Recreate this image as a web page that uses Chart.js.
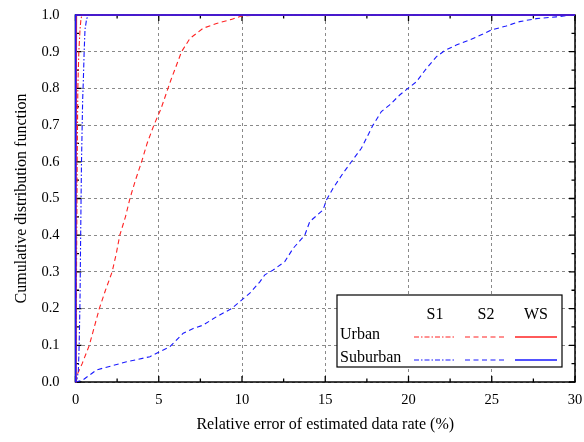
<!DOCTYPE html>
<html>
<head>
<meta charset="utf-8">
<script src="https://cdn.jsdelivr.net/npm/chart.js@4/dist/chart.umd.min.js"></script>
<style>
  html, body { margin: 0; padding: 0; background: #fff; }
  #wrap { width: 584px; height: 442px; }
</style>
</head>
<body>
<div id="wrap"><canvas id="cdf" width="584" height="442"></canvas></div>
<script>
// Relative error (%) and cumulative probability for each scheme / scenario
const urbanS1X = [0, 0.03, 0.06, 0.1, 0.14, 0.2, 0.27, 0.33, 0.4, 30];
const urbanS1Y = [0, 0.1, 0.3, 0.6, 0.8, 0.9, 0.96, 0.99, 1.0, 1.0];

const urbanS2X = [0, 0.1, 0.4, 0.83, 1.43, 1.8, 2.2, 2.45, 2.66, 3.0, 3.27, 3.6, 3.97, 4.3, 4.71, 5.13, 5.73, 6.37, 6.87, 7.67, 8.47, 9.37, 9.97, 11, 30];
const urbanS2Y = [0, 0.02, 0.05, 0.1, 0.2, 0.25, 0.3, 0.35, 0.4, 0.45, 0.5, 0.55, 0.6, 0.65, 0.7, 0.744, 0.823, 0.9, 0.936, 0.964, 0.977, 0.988, 0.997, 1.0, 1.0];

const urbanWSX = [0, 0.02, 0.05, 30];
const urbanWSY = [0, 0.5, 1.0, 1.0];

const suburbanS1X = [0, 0.1, 0.17, 0.22, 0.27, 0.31, 0.36, 0.43, 0.47, 0.52, 0.57, 0.67, 0.8, 30];
const suburbanS1Y = [0, 0.01, 0.03, 0.1, 0.22, 0.4, 0.6, 0.77, 0.82, 0.9, 0.96, 0.99, 1.0, 1.0];

const suburbanS2X = [0, 0.43, 1.27, 3.07, 4.47, 5.07, 5.67, 6.47, 7.07, 7.67, 8.47, 9.37, 9.87, 10.47, 11.07, 11.37, 11.87, 12.57, 13.07, 13.77, 14.07, 14.87, 15.07, 15.47, 16.07, 16.57, 17.17, 17.87, 18.37, 18.87, 19.47, 19.97, 20.47, 21.07, 21.67, 22.17, 22.87, 23.67, 24.47, 24.97, 25.87, 26.67, 27.67, 28.87, 29.87, 30];
const suburbanS2Y = [0, 0.005, 0.033, 0.055, 0.069, 0.083, 0.096, 0.133, 0.146, 0.155, 0.178, 0.2, 0.219, 0.242, 0.273, 0.292, 0.305, 0.328, 0.364, 0.4, 0.437, 0.469, 0.496, 0.528, 0.569, 0.6, 0.637, 0.7, 0.737, 0.755, 0.782, 0.8, 0.818, 0.854, 0.886, 0.903, 0.918, 0.932, 0.948, 0.959, 0.97, 0.982, 0.99, 0.995, 1.0, 1.0];

const suburbanWSX = [0, 0.01, 30];
const suburbanWSY = [0, 1.0, 1.0];

const schemeNames = ['S1', 'S2', 'WS'];
const scenarioNames = ['Urban', 'Suburban'];
const xTickValues = [0, 5, 10, 15, 20, 25, 30];
const yTickValues = [0, 0.1, 0.2, 0.3, 0.4, 0.5, 0.6, 0.7, 0.8, 0.9, 1.0];

const RED = 'rgb(255, 35, 35)';
const BLUE = 'rgb(25, 25, 255)';
const DASH_DOT = [5, 2, 1.5, 2];
const DASHED = [5, 3.5];
const SERIF = '"Liberation Serif", "Times New Roman", serif';

function pts(xs, ys) { return xs.map((x, i) => ({ x: x, y: ys[i] })); }

function series(label, xs, ys, color, dash, width) {
  return {
    label: label,
    data: pts(xs, ys),
    borderColor: color,
    borderDash: dash,
    borderWidth: width,
    pointRadius: 0,
    fill: false,
    tension: 0,
    clip: false
  };
}

// Chart.js paints dataset 0 last, so the solid WS curves come first to sit on top
const datasets = [
  series('Suburban WS', suburbanWSX, suburbanWSY, BLUE, [], 1.6),
  series('Urban WS', urbanWSX, urbanWSY, RED, [], 1.6),
  series('Suburban S1', suburbanS1X, suburbanS1Y, BLUE, DASH_DOT, 1.1),
  series('Urban S1', urbanS1X, urbanS1Y, RED, DASH_DOT, 1.1),
  series('Suburban S2', suburbanS2X, suburbanS2Y, BLUE, DASHED, 1.1),
  series('Urban S2', urbanS2X, urbanS2Y, RED, DASHED, 1.1)
];

// Plot frame with inward major/minor ticks on all four sides
const framePlugin = {
  id: 'frame',
  beforeDatasetsDraw(chart) {
    const { ctx, chartArea: a, scales } = chart;
    const xs = scales.x, ys = scales.y;
    ctx.save();
    ctx.strokeStyle = '#000';
    ctx.lineWidth = 1.5;
    ctx.strokeRect(a.left, a.top, a.right - a.left, a.bottom - a.top);
    ctx.lineWidth = 1.3;
    ctx.beginPath();
    for (let v = 0; v <= 30.001; v += 2.5) {
      const px = xs.getPixelForValue(v);
      const len = Math.abs(v / 5 - Math.round(v / 5)) < 1e-6 ? 6 : 3.5;
      ctx.moveTo(px, a.bottom); ctx.lineTo(px, a.bottom - len);
      ctx.moveTo(px, a.top); ctx.lineTo(px, a.top + len);
    }
    for (let k = 0; k <= 20; k++) {
      const v = k * 0.05;
      const py = ys.getPixelForValue(v);
      const len = k % 2 === 0 ? 6 : 3.5;
      ctx.moveTo(a.left, py); ctx.lineTo(a.left + len, py);
      ctx.moveTo(a.right, py); ctx.lineTo(a.right - len, py);
    }
    ctx.stroke();
    ctx.restore();
  }
};

// Legend table: scheme columns, scenario rows
const tableLegend = {
  id: 'tableLegend',
  afterDraw(chart) {
    const { ctx, chartArea: a } = chart;
    const box = { x: a.left + 261.5, y: a.top + 280, w: 225, h: 72 };
    ctx.save();
    ctx.fillStyle = '#fff';
    ctx.fillRect(box.x, box.y, box.w, box.h);
    ctx.strokeStyle = '#000';
    ctx.lineWidth = 1.2;
    ctx.strokeRect(box.x, box.y, box.w, box.h);
    ctx.font = '16px ' + SERIF;
    ctx.fillStyle = '#000';
    ctx.textBaseline = 'middle';
    ctx.textAlign = 'center';
    const colX = [box.x + 98, box.x + 149, box.x + 199];
    schemeNames.forEach((n, i) => ctx.fillText(n, colX[i], box.y + 20));
    ctx.textAlign = 'left';
    const rowY = [box.y + 40, box.y + 63];
    const colors = [RED, BLUE];
    const dashes = [DASH_DOT, DASHED, []];
    scenarioNames.forEach((n, r) => {
      ctx.fillStyle = '#000';
      ctx.fillText(n, box.x + 3, rowY[r]);
      dashes.forEach((d, c) => {
        ctx.beginPath();
        ctx.setLineDash(d);
        ctx.strokeStyle = colors[r];
        ctx.lineWidth = c === 2 ? 1.6 : 1.2;
        ctx.moveTo(colX[c] - 21, rowY[r] + 2);
        ctx.lineTo(colX[c] + 21, rowY[r] + 2);
        ctx.stroke();
      });
    });
    ctx.restore();
  }
};

new Chart(document.getElementById('cdf'), {
  type: 'line',
  data: { datasets: datasets },
  plugins: [framePlugin, tableLegend],
  options: {
    responsive: false,
    animation: false,
    layout: { padding: { top: 15, right: 9, left: 0, bottom: 0 } },
    plugins: { legend: { display: false }, tooltip: { enabled: false } },
    scales: {
      x: {
        type: 'linear',
        min: 0, max: 30,
        afterFit(s) { s.height = 60; s.paddingLeft = 0; s.paddingRight = 0; },
        afterBuildTicks(s) { s.ticks = xTickValues.map(v => ({ value: v })); },
        ticks: {
          color: '#000',
          padding: 9,
          font: { family: SERIF, size: 14.5 },
          callback: v => String(v),
          maxRotation: 0
        },
        grid: {
          drawTicks: false,
          color: '#8a8a8a',
          lineWidth: 1
        },
        border: { display: false, dash: [3, 3] },
        title: {
          display: true,
          text: 'Relative error of estimated data rate (%)',
          color: '#000',
          font: { family: SERIF, size: 16 },
          padding: { top: 0, bottom: 8 }
        }
      },
      y: {
        type: 'linear',
        min: 0, max: 1,
        afterFit(s) { s.width = 75.5; s.paddingTop = 0; s.paddingBottom = 0; },
        afterBuildTicks(s) { s.ticks = yTickValues.map(v => ({ value: v })); },
        ticks: {
          color: '#000',
          padding: 16,
          font: { family: SERIF, size: 14.5 },
          callback: v => Number(v).toFixed(1)
        },
        grid: {
          drawTicks: false,
          color: '#8a8a8a',
          lineWidth: 1
        },
        border: { display: false, dash: [3, 3] },
        title: {
          display: true,
          text: 'Cumulative distribution function',
          color: '#000',
          font: { family: SERIF, size: 16 },
          padding: { top: 12, bottom: 0 }
        }
      }
    }
  }
});
</script>
</body>
</html>
